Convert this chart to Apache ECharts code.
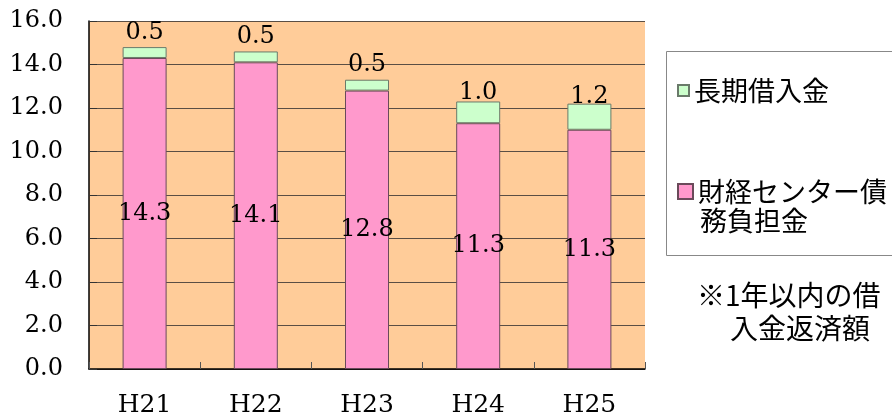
<!DOCTYPE html>
<html>
<head>
<meta charset="utf-8">
<script src="https://cdn.jsdelivr.net/npm/echarts@6/dist/echarts.min.js"></script>
<style>
html,body{margin:0;padding:0;background:#fff;}
#main{width:892px;height:419px;}
</style>
</head>
<body>
<div id="main"></div>
<script>
var categories = ['H21', 'H22', 'H23', 'H24', 'H25'];
var pinkValues = [14.3, 14.1, 12.8, 11.3, 11.0];
var pinkLabels = ['14.3', '14.1', '12.8', '11.3', '11.3'];
var greenValues = [0.5, 0.5, 0.5, 1.0, 1.2];
var greenLabels = ['0.5', '0.5', '0.5', '1.0', '1.2'];
var pinkName = '財経センター債務負担金';
var greenName = '長期借入金';
var yTicks = { min: 0, max: 16, interval: 2 };

var numFont = 'DejaVu Serif';
var cjkFont = '"Noto Sans CJK JP"';

var chart = echarts.init(document.getElementById('main'), null, { renderer: 'canvas' });
chart.setOption({
  backgroundColor: '#ffffff',
  animation: false,
  grid: {
    left: 89, right: 247, top: 21, bottom: 50,
    show: true, backgroundColor: '#FFCC99', borderWidth: 0
  },
  xAxis: {
    type: 'category',
    data: categories,
    axisLine: { show: true, lineStyle: { color: '#000', width: 1.5 } },
    axisTick: { show: true, inside: true, length: 7, lineStyle: { color: '#555' } },
    axisLabel: { fontFamily: numFont, fontSize: 25, color: '#000', margin: 24 },
    splitLine: { show: false }
  },
  yAxis: {
    type: 'value',
    min: yTicks.min, max: yTicks.max, interval: yTicks.interval,
    axisLine: { show: true, lineStyle: { color: '#000', width: 1.5 } },
    axisTick: { show: true, inside: true, length: 8, lineStyle: { color: '#333' } },
    axisLabel: {
      fontFamily: numFont, fontSize: 24, color: '#000', margin: 26,
      formatter: function (v) { return v.toFixed(1); }
    },
    splitLine: { show: true, lineStyle: { color: '#5a4e44', width: 1 } }
  },
  legend: [
    {
      data: [greenName],
      orient: 'vertical', left: 677, top: 77, padding: 0,
      itemWidth: 11, itemHeight: 11, itemGap: 0, itemTextGap: 12,
      icon: 'rect',
      textStyle: { fontFamily: cjkFont, fontSize: 27, color: '#000' }
    },
    {
      data: [pinkName],
      orient: 'vertical', left: 677, top: 178, padding: 0,
      itemWidth: 15, itemHeight: 15, itemGap: 0, itemTextGap: 8,
      icon: 'rect',
      formatter: function (n) { return '財経センター債'; },
      textStyle: { fontFamily: cjkFont, fontSize: 27, color: '#000' }
    }
  ],
  graphic: [
    {
      type: 'rect', left: 664, top: 49,
      shape: { width: 240, height: 204 },
      style: { fill: 'none', stroke: '#888', lineWidth: 1 }
    },
    {
      type: 'text', left: 700, top: 207,
      style: { text: '務負担金', font: '27px "Noto Sans CJK JP"', fill: '#000' }
    },
    {
      type: 'text', left: 697, top: 281,
      style: { text: '※1年以内の借', font: '28px "Noto Sans CJK JP"', fill: '#000' }
    },
    {
      type: 'text', left: 730, top: 314,
      style: { text: '入金返済額', font: '28px "Noto Sans CJK JP"', fill: '#000' }
    }
  ],
  series: [
    {
      name: pinkName,
      type: 'bar',
      stack: 'total',
      barWidth: 44,
      data: pinkValues,
      itemStyle: { color: '#FF99CC', borderColor: '#6a4a5a', borderWidth: 1 },
      label: {
        show: true, position: 'inside',
        fontFamily: numFont, fontSize: 24, color: '#000',
        formatter: function (p) { return pinkLabels[p.dataIndex]; }
      }
    },
    {
      name: greenName,
      type: 'bar',
      stack: 'total',
      barWidth: 44,
      data: greenValues,
      itemStyle: { color: '#CCFFCC', borderColor: '#6a7a6a', borderWidth: 1 },
      label: {
        show: true, position: 'inside', offset: [0, -20],
        fontFamily: numFont, fontSize: 24, color: '#000',
        formatter: function (p) { return greenLabels[p.dataIndex]; }
      }
    }
  ]
});
</script>
</body>
</html>
